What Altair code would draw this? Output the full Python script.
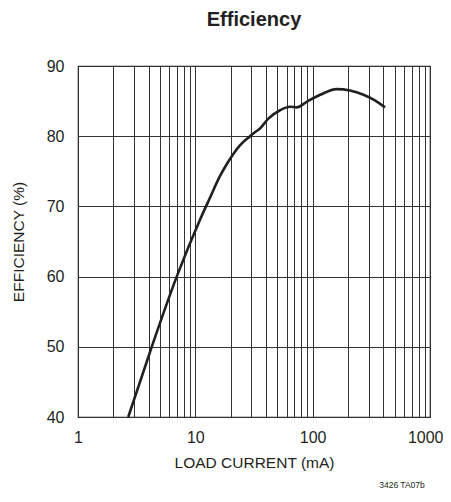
import altair as alt
import pandas as pd

# curve data
load_ma = [2.68, 4.25, 6.94, 10.96, 13.3, 16.2, 18.5, 20.0, 24.0, 29.3, 31.2, 35.6, 41.9, 52.7, 64.1, 73.2, 89, 116, 160, 208, 271, 339, 414]
eff_pct = [40.0, 50.0, 60.0, 68.1, 71.2, 74.3, 76.0, 76.9, 78.7, 80.0, 80.4, 81.1, 82.5, 83.7, 84.2, 84.1, 84.9, 85.9, 86.7, 86.5, 85.9, 85.1, 84.1]

x_grid = [1, 2, 3, 4, 5, 6, 7, 8, 9, 10, 20, 30, 40, 50, 60, 70, 80, 90, 100,
          200, 300, 400, 500, 600, 700, 800, 900, 1000]
x_labels = [1, 10, 100, 1000]
y_ticks = [40, 50, 60, 70, 80, 90]

df = pd.DataFrame({"x": load_ma, "y": eff_pct})

FONT = "Liberation Sans"
INK = "#231f20"

xscale = alt.Scale(type="log", domain=[1, 1000], nice=False)
yscale = alt.Scale(domain=[40, 90], nice=False, zero=False)

line = alt.Chart(df).mark_line(color=INK, strokeWidth=2.6, interpolate="monotone").encode(
    x=alt.X("x:Q", scale=xscale,
            axis=alt.Axis(values=x_grid, format="d",
                          labelExpr="indexof([1,10,100,1000], datum.value) >= 0 ? datum.label : ''",
                          labelAlign=alt.ExprRef(expr="datum.value >= 1000 ? 'right' : 'center'"),
                          labelOffset=alt.ExprRef(expr="datum.value >= 1000 ? 13 : 0"),
                          grid=True, gridColor="#333333", gridWidth=1, gridOpacity=1,
                          ticks=False, labelPadding=12, labelFontSize=16, labelFont=FONT,
                          labelColor=INK, labelFlush=False,
                          title="LOAD CURRENT (mA)", titleFont=FONT, titleFontSize=15.5,
                          titleFontWeight="normal", titleColor=INK, titlePadding=10,
                          domain=False)),
    y=alt.Y("y:Q", scale=yscale,
            axis=alt.Axis(values=y_ticks, grid=True, gridColor="#333333", gridWidth=1,
                          gridOpacity=1, ticks=False, labelPadding=14, labelFontSize=16,
                          labelFont=FONT, labelColor=INK,
                          title="EFFICIENCY (%)", titleFont=FONT, titleFontSize=15.5,
                          titleFontWeight="normal", titleColor=INK, titlePadding=20,
                          domain=False)),
)

note = alt.Chart(pd.DataFrame({"t": ["3426 TA07b"]})).mark_text(
    font=FONT, fontSize=8.5, color=INK, align="center", baseline="middle"
).encode(text="t:N", x=alt.value(324), y=alt.value(419))

chart = alt.layer(line, note).properties(
    width=352, height=351,
    title=alt.Title("Efficiency", font=FONT, fontSize=20, fontWeight="bold",
                    color=INK, anchor="middle", offset=28),
    autosize=alt.AutoSizeParams(type="none"),
    padding={"left": 70, "top": 58, "right": 13, "bottom": 74},
).configure_view(stroke=INK, strokeWidth=1.2)

chart.save("out.html", embed_options={"renderer": "svg", "actions": False})
